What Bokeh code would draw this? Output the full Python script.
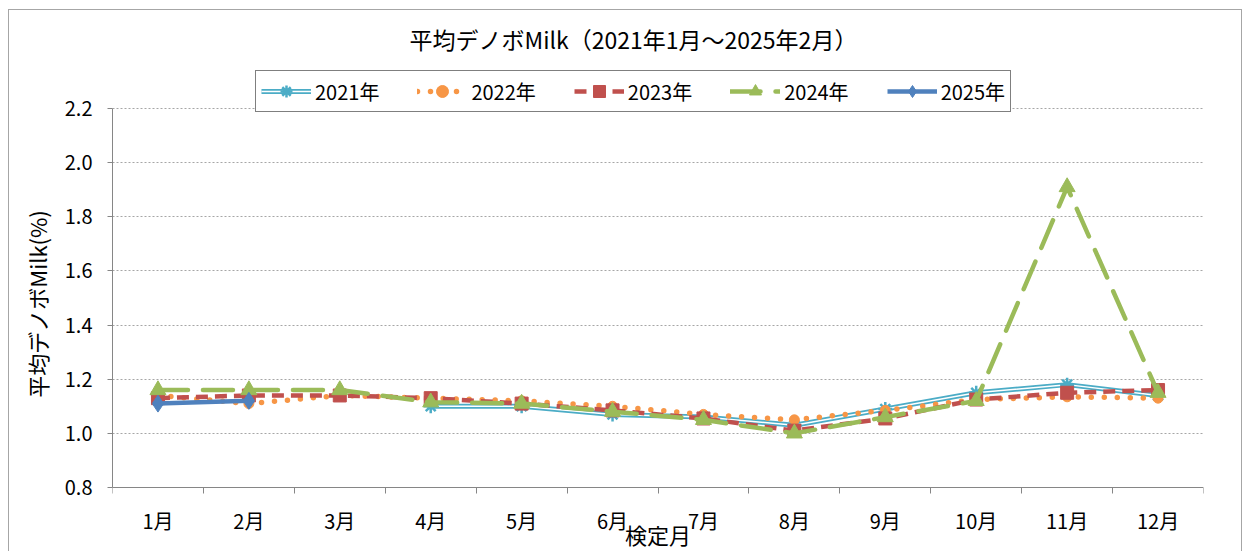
import numpy as np
from bokeh.plotting import figure
from bokeh.models import (Range1d, FixedTicker, Legend, LegendItem, ColumnDataSource)
from bokeh.embed import file_html
from bokeh.resources import INLINE

months = ["1月", "2月", "3月", "4月", "5月", "6月", "7月", "8月", "9月", "10月", "11月", "12月"]
y2021 = [None, None, None, 1.10, 1.10, 1.07, 1.06, 1.03, 1.09, 1.15, 1.18, 1.14]
y2022 = [1.14, 1.11, 1.14, 1.13, 1.12, 1.10, 1.07, 1.05, 1.085, 1.125, 1.135, 1.13]
y2023 = [1.13, 1.14, 1.14, 1.13, 1.11, 1.085, 1.055, 1.01, 1.055, 1.125, 1.15, 1.16]
y2024 = [1.16, 1.16, 1.16, 1.115, 1.11, 1.08, 1.05, 1.00, 1.06, 1.12, 1.91, 1.15]
y2025 = [1.11, 1.12]
series_names = ["2021年", "2022年", "2023年", "2024年", "2025年"]
y_ticks = [0.8, 1.0, 1.2, 1.4, 1.6, 1.8, 2.0, 2.2]
title_text = "平均デノボMilk（2021年1月～2025年2月）"

FONT = "Noto Sans CJK JP"

def src(vals):
    x = list(range(1, len(vals) + 1))
    y = [np.nan if v is None else v for v in vals]
    return ColumnDataSource(dict(x=x, y=y))

# frame 1091 x 497 px; the 0.8..2.2 axis occupies 379 px of it
PX = 379 / 1.4
Y_LO = 0.8 - 65 / PX
Y_HI = 2.2 + 53 / PX
p = figure(width=1234, height=542, output_backend="svg", toolbar_location=None,
           x_range=Range1d(0.5, 12.5), y_range=Range1d(Y_LO, Y_HI),
           min_border_left=103, min_border_right=40, min_border_top=45, min_border_bottom=0)
p.styles = {"border-left": "1px solid #a6a6a6", "border-top": "1px solid #a6a6a6",
            "border-right": "1px solid #a6a6a6", "margin-left": "8px", "margin-top": "9px"}
p.outline_line_color = None
p.background_fill_color = "white"
p.border_fill_color = "white"

p.title.text = title_text
p.title.align = "left"
p.title.offset = 297
p.title.standoff = 0
p.title.text_font = FONT
p.title.text_font_size = "23px"
p.title.text_font_style = "normal"
p.title.text_color = "black"

# x axis (drawn at y = 0.8 inside the extended frame)
p.xaxis.fixed_location = 0.8
p.xaxis.ticker = FixedTicker(ticks=list(range(1, 13)), minor_ticks=[i + 0.5 for i in range(0, 13)])
p.xaxis.major_label_overrides = {i + 1: m for i, m in enumerate(months)}
p.xaxis.major_tick_line_color = None
p.xaxis.major_tick_out = 0
p.xaxis.minor_tick_out = 6
p.xaxis.minor_tick_in = 0
p.xaxis.minor_tick_line_color = "#868686"
p.xaxis.axis_line_color = "#868686"
p.xaxis.major_label_standoff = 12
p.xaxis.major_label_text_font = FONT
p.xaxis.major_label_text_font_size = "20px"
p.xaxis.major_label_text_color = "black"
p.xaxis.axis_label = "検定月"
p.xaxis.axis_label_standoff = -20
p.xaxis.axis_label_text_font = FONT
p.xaxis.axis_label_text_font_size = "22px"
p.xaxis.axis_label_text_font_style = "normal"
p.xaxis.axis_label_text_color = "black"

# y axis
p.yaxis.ticker = FixedTicker(ticks=y_ticks)
p.yaxis.bounds = (0.8, 2.2)
p.yaxis.major_label_overrides = {t: f"{t:.1f}" for t in y_ticks}
p.yaxis.axis_line_color = "#868686"
p.yaxis.major_tick_line_color = "#868686"
p.yaxis.major_tick_out = 5
p.yaxis.major_tick_in = 0
p.yaxis.minor_tick_line_color = None
p.yaxis.major_label_standoff = 15
p.yaxis.major_label_text_font = FONT
p.yaxis.major_label_text_font_size = "20px"
p.yaxis.major_label_text_color = "black"
p.yaxis.axis_label = "平均デノボMilk(%)"
p.yaxis.axis_label_standoff = 9
p.yaxis.axis_label_text_font = FONT
p.yaxis.axis_label_text_font_size = "22px"
p.yaxis.axis_label_text_font_style = "normal"
p.yaxis.axis_label_text_color = "black"

p.xgrid.grid_line_color = None
p.ygrid.grid_line_color = "#a6a6a6"
p.ygrid.grid_line_dash = "2 2"
p.ygrid.grid_line_width = 1

# series
s1 = src(y2021)
l1a = p.line("x", "y", source=s1, line_color="#4BACC6", line_width=5)
l1b = p.line("x", "y", source=s1, line_color="white", line_width=1.5)
m1 = p.scatter("x", "y", source=s1, marker="asterisk", size=14, line_color="#4BACC6", line_width=2.5)

s2 = src(y2022)
l2 = p.line("x", "y", source=s2, line_color="#F79646", line_width=5.5, line_dash="0 13", line_cap="round")
m2 = p.scatter("x", "y", source=s2, marker="circle", size=10, fill_color="#F79646", line_color="#F79646")

s3 = src(y2023)
l3 = p.line("x", "y", source=s3, line_color="#C0504D", line_width=4.5, line_dash="12 7")
m3 = p.scatter("x", "y", source=s3, marker="square", size=13, fill_color="#C0504D", line_color="#C0504D")

s4 = src(y2024)
l4 = p.line("x", "y", source=s4, line_color="#9BBB59", line_width=4.5, line_dash="30 15", line_cap="round")
m4 = p.scatter("x", "y", source=s4, marker="triangle", size=16, fill_color="#9BBB59", line_color="#9BBB59")

s5 = src(y2025)
l5 = p.line("x", "y", source=s5, line_color="#4F81BD", line_width=4.5)
m5 = p.scatter("x", "y", source=s5, marker="diamond", size=17, fill_color="#4F81BD", line_color="#4F81BD")

legend = Legend(items=[
    LegendItem(label=series_names[0], renderers=[l1a, l1b, m1]),
    LegendItem(label=series_names[1], renderers=[l2, m2]),
    LegendItem(label=series_names[2], renderers=[l3, m3]),
    LegendItem(label=series_names[3], renderers=[l4, m4]),
    LegendItem(label=series_names[4], renderers=[l5, m5]),
], orientation="horizontal", location=(143, 440))
legend.border_line_color = "black"
legend.border_line_width = 1
legend.background_fill_color = "white"
legend.background_fill_alpha = 1
legend.label_text_font = FONT
legend.label_text_font_size = "20px"
legend.label_text_color = "black"
legend.glyph_width = 50
legend.glyph_height = 30
legend.spacing = 38
legend.padding = 5
legend.margin = 0
legend.label_standoff = 4
p.add_layout(legend, "center")

open("out.html", "w").write(file_html(p, INLINE))
